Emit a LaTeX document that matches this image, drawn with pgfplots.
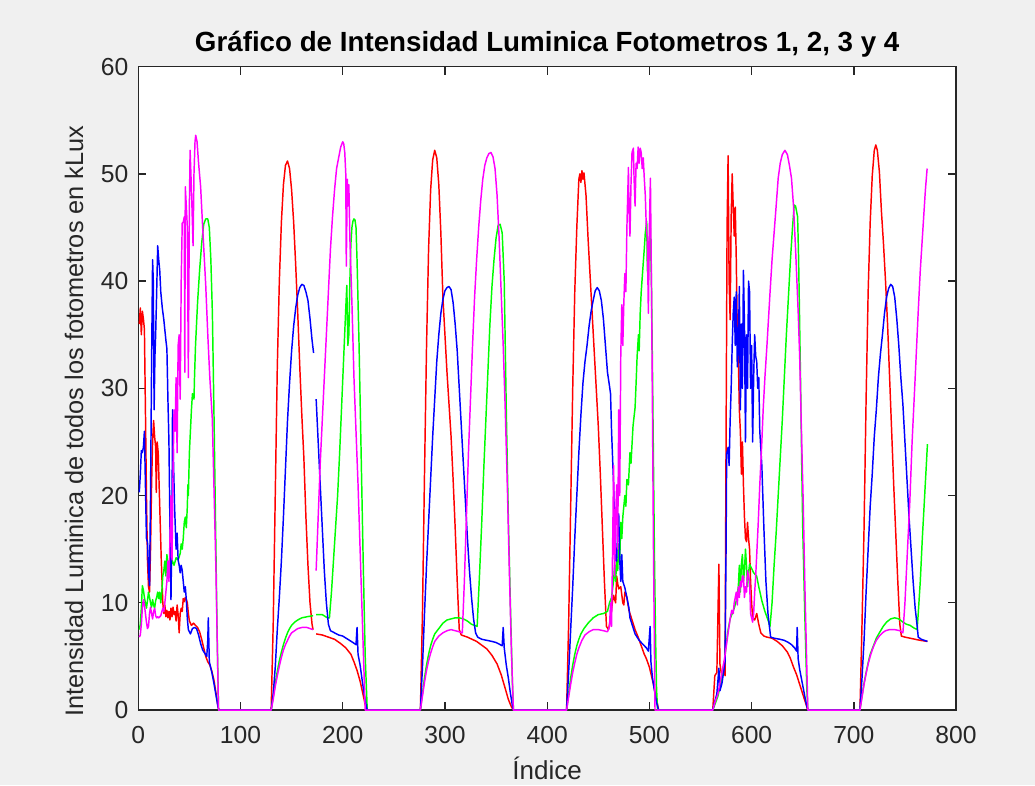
\documentclass[border=0pt]{standalone}
\usepackage{fontspec}
\setmainfont{Liberation Sans}
\usepackage{pgfplots}
\pgfplotsset{compat=1.18}
\definecolor{figbg}{HTML}{F0F0F0}
\definecolor{axcol}{HTML}{262626}
\definecolor{mred}{rgb}{1,0,0}
\definecolor{mgreen}{rgb}{0,1,0}
\definecolor{mblue}{rgb}{0,0,1}
\definecolor{mmag}{rgb}{1,0,1}
\begin{document}
\begin{tikzpicture}
\fill[figbg] (-103.7pt,-56.25pt) rectangle (672.5pt,532.5pt);
\begin{axis}[
 at={(0,0)}, anchor=south west,
 scale only axis, width=613.3pt, height=482.5pt,
 xmin=0, xmax=800, ymin=0, ymax=60,
 xtick={0,100,...,800}, ytick={0,10,...,60},
 axis background/.style={fill=white},
 axis line style={axcol, line width=1pt},
 every tick/.style={axcol, line width=1pt},
 major tick length=6pt,
 tick align=inside,
 /pgf/number format/assume math mode=true,
 tick label style={text=axcol, font=\fontsize{18.5}{22}\selectfont},
 xticklabel style={yshift=-9pt},
 yticklabel style={xshift=-4pt},
 every axis title shift=0pt,
 title={\bfseries Gráfico de Intensidad Luminica Fotometros 1, 2, 3 y 4},
 title style={at={(axis description cs:0.5,1.035)}, anchor=center, font=\fontsize{20.8}{25}\selectfont},
 xlabel={Índice},
 ylabel={Intensidad Luminica de todos los fotometros en kLux},
 xlabel style={at={(axis description cs:0.5,-0.090)}, anchor=center, text=axcol, font=\fontsize{19.5}{24}\selectfont},
 ylabel style={at={(axis description cs:-0.0786,0.449)}, anchor=center, text=axcol, font=\fontsize{19}{24}\selectfont},
 unbounded coords=jump,
 every axis plot/.append style={line width=1.1pt, line join=round},
]
% Fotometro 1 (rojo)
\addplot[mred] coordinates {
(1,36) (2,37.5) (3,35) (4,37.2) (5,36.5) (6,35.5) (7,28) (8,20) (9,14) (10,11.5) (11,11) (12,15) (13,21) (14,25) (15,27) (16,25.5) (17,24.5) (17.6,20.3) (18.5,25) (19.5,24) (21,19) (22.5,14) (24,10) (25,9) (26,9.8) (27,8.7) (28,9.3) (29,8.6) (30,9.2) (31,8.4) (32,9.5) (33,8.7) (34,9.6) (35,8.9) (36,9.2) (37,8.3) (38,9.8) (39,8.9) (40,7.2) (41,9.0) (42,9.5) (43,9.2) (44,10.4) (45,10.1) (46,10.5) (47,10.3) (48,10.0) (49,9.0) (50,8.3) (52,7.9) (54,8.1) (56,7.9) (58,7.7) (60,7.3) (62,6.6) (64,5.8) (66,5.0) (68,4.5) (70,4.2) (72,3.6) (74,2.8) (76,1.6) (78,0.3) (79,0)
(130,0) (132,8) (134,20) (136,32) (138,40) (140,45.5) (142,49) (144,50.8) (146,51.2) (148,50.5) (150,48.5) (152,45.5) (154,41.5) (156,37) (158,32) (160,27.5) (162,23.5) (164,18) (166,13.5) (168,10) (170,8) (171,7.5) (172.5,nan) (174,7.1) (180,7.0) (186,6.8) (192,6.6) (198,6.2) (203,5.8) (208,5.2) (211,4.5) (214,3.7) (217,2.7) (220,1.4) (222,0.5) (224,0)
(276,0) (278,9) (280,22) (282,34) (284,43) (286,48.5) (288,51.3) (290,52.2) (292,51.5) (294,49) (296,44.5) (298,38.5) (300,35) (302,31.5) (304,28.5) (306,25.5) (308,21.5) (310,17) (312,12) (314,7.5) (316,7.0) (322,6.8) (331,6.4) (341,5.7) (346,5.1) (351,4.3) (355,3.3) (359,2.0) (362,1.0) (365,0.3) (367,0)
(419,0) (421,8) (423,19) (425,30) (427,39) (429,45) (431,49.5) (432,50) (433,49.2) (434,50.3) (435,49.5) (436,50.1) (438,48) (440,44) (442,40.5) (444,37) (446,33.5) (448,30) (450,26.5) (452,22) (454,17) (456,12) (458,7.8) (460,7.5) (462,8.5) (464,10.2) (465,10.7) (466,10.3) (467,10.0) (468,12.5) (469,11.8) (470,11.3) (472,11.5) (474,10.0) (475,9.8) (476,11.0) (478,10.5) (480,9.3) (483,8.4) (486,7.5) (489,6.8) (492,6.0) (495,5.2) (497,4.8) (500,4.0) (502,3.2) (504,2.4) (506,1.4) (508,0.5) (509,0)
(562,0) (564,3.2) (566,3.5) (568,13.6) (569,4.3) (571,3.0) (573,4.5) (574,3.2) (575,25) (576,45) (577,51.7) (578,40) (579,36.4) (580,46) (581,50) (582,47) (583,44.2) (584,46.9) (585,42) (586,35) (587,33) (588,28) (589,26) (590,22) (591,25) (592,21) (593,18) (594,16) (595,15.7) (596,17.5) (597,16) (598,15) (599,12) (600,10) (601,8.6) (603,8.4) (605,9.0) (607,8.0) (609,7.2) (612,6.9) (615,6.8) (620,6.7) (625,6.4) (630,6.0) (635,5.4) (638,4.8) (641,4.0) (644,3.3) (647,2.4) (650,1.5) (653,0.6) (655,0)
(706,0) (708,8) (710,17) (712,29) (714,39) (716,45.5) (718,49.8) (720,52.2) (721.5,52.7) (723,52.2) (725,50.2) (727,46.5) (729,43.5) (731,40) (733,36) (735,31) (737,26) (739,21) (741,16.5) (743,12) (745,8) (746.5,6.9) (750,6.8) (755,6.7) (760,6.6) (765,6.5) (772,6.4)
};
% Fotometro 2 (verde)
\addplot[mgreen] coordinates {
(1,7.5) (2,8.0) (3,9.5) (4,11.6) (5,11.2) (6,10.5) (7,10.0) (8,9.5) (9,10.2) (10,11.0) (11,10.5) (12,10) (13,9.6) (14,10.3) (15,9.8) (16,9.5) (17,10.2) (18,10.5) (19,11.0) (20,10.4) (21,11.0) (22,10) (23,11) (24,12.5) (25,13) (26,13.9) (27,12.5) (28,14.5) (29,13.6) (30,13.5) (31,14) (32,13.2) (33,14) (35,13.5) (37,14.2) (39,14) (41,14.6) (42,15.5) (43,15) (44,16) (45,17.5) (46,18) (47,17) (48,19) (48.5,21) (49,20) (50,24) (51,26) (52,28) (53,29.5) (54.5,29) (55,31) (56,34) (58,38) (60,41) (62,43.5) (64,45.3) (66,45.8) (68,45.8) (69.5,45) (71,42) (72.5,37) (74,28) (75.5,18) (77,8) (78.5,0)
(130,0) (132,1.2) (134,2.5) (136,3.6) (138,4.6) (140,5.4) (142,6.1) (144,6.7) (146,7.2) (148,7.6) (150,7.9) (153,8.2) (156,8.4) (160,8.6) (165,8.7) (171,8.8) (172.5,nan) (174,8.9) (180,8.9) (185,8.6) (187,8.6) (189,11) (191,14) (193,17) (195,20) (197,24) (199,28.5) (201,33) (203,37.5) (204,39.6) (205,34) (206,35) (207,40) (208,43.5) (209,45) (210,45.6) (211,45.8) (212,45.7) (213,45) (214,42) (216,34) (218,24) (220,14) (222,5) (224,0)
(276,0) (278,1.5) (280,3) (282,4.2) (284,5.2) (286,6.0) (288,6.6) (290,7.1) (294,7.6) (298,8.1) (302,8.4) (306,8.5) (310,8.6) (314,8.6) (318,8.5) (322,8.3) (326,8.0) (331.5,7.8) (334,13) (336,17.5) (338,22.5) (340,27) (342,31.5) (344,36) (346,39.5) (348,42) (350,44) (352,45.2) (354,45.3) (356,44.5) (358,40) (360,28) (362,18) (364,10) (366,2.5) (367,0)
(419,0) (421,1.5) (423,3) (425,4.2) (427,5.2) (429,6.0) (431,6.6) (433,7.1) (436,7.6) (440,8.1) (445,8.6) (450,8.9) (455,9.0) (459,9.2) (461,10) (463,10.5) (465,12.1) (466,13.5) (467,12) (468,14) (469,13) (470,15.5) (471,14) (472,17.5) (473,16) (474,18) (476,20) (477,19) (478,21.5) (479.5,21) (481,24) (482,23) (484,26.5) (486,28.2) (487,30.5) (488,33) (489.3,35) (490,33.5) (491,37) (492,39) (494,41.7) (495,43) (496,44.5) (497.4,45.6) (498,41) (499,40.5) (500,44) (500.7,45.6) (502,40) (503,32) (504,23) (505,14) (506,7) (507,2) (508,0)
(562,0) (564,0.5) (567,1.3) (570,2.5) (573,4.0) (575,6) (577,7.5) (579,8.5) (581,9) (583,9.5) (585,10.2) (587,11.5) (588,13.5) (589,11) (590,13.6) (591,14.5) (592,12) (593,13) (594,15) (595,13.5) (596,11.5) (597,12.8) (598,13.6) (600,13.2) (602,12.8) (604.9,12.5) (607,11.5) (610,10.2) (613,9.2) (616,8.4) (618,7.8) (620,10) (622,13.5) (624,16.5) (626,20) (628,23.5) (630,27) (632,31) (634,35) (636,38.5) (638,42) (640,45) (641.7,47.1) (643,47) (645,46) (646,42) (647,36) (648,30) (649,23) (650,17) (651,13) (652,9) (653,5.5) (654,2) (655,0)
(706,0) (708,1.3) (710,2.5) (712,3.5) (714,4.4) (716,5.2) (718,5.7) (720,6.2) (722,6.7) (725,7.2) (728.7,7.8) (732,8.2) (736,8.5) (740,8.6) (744,8.5) (748,8.2) (751.5,8.0) (755,7.9) (758,7.7) (761.9,7.5) (763,9) (765,12) (767,16) (769,19.5) (771,23) (772,24.8)
};
% Fotometro 3 (azul)
\addplot[mblue] coordinates {
(1,20.3) (2,22) (3,24.2) (4,24) (5,24.5) (6,26) (7,21) (8,16) (9,15.7) (10,13) (11,11.6) (12,20) (13,32) (14,42) (14.7,40) (15.5,28) (16.3,33) (17,35) (18,39) (19,43.3) (20,42) (21,41) (22,39) (23.5,37.5) (25,36.4) (27,34.5) (28,33.7) (29,29) (30,25) (31,17) (32,10.3) (33,18) (33.5,28) (34.5,23) (35.5,19) (37,15) (38,16.5) (39,14) (40,13.5) (41,12.8) (42,13.5) (43,13) (44,12) (45,11) (46,11.5) (47,10.3) (48,8.5) (49,7.5) (51,7.1) (53,7.6) (55,7.7) (57,7.6) (59,7.0) (61,6.2) (63,5.6) (65,5.3) (67,5.0) (68,6.5) (68.5,8.6) (69.5,4.5) (72,3.5) (74,2.5) (76,1.4) (78,0.3) (79,0)
(130,0) (132,1.5) (134,4) (136,7.5) (138,10.5) (140,13.9) (142,18) (144,22.5) (146,27) (148,30.5) (150,33.5) (152,35.8) (154,37.5) (156,38.7) (158,39.4) (160,39.7) (162,39.6) (164,39) (166,38.2) (168,36.5) (170,34.5) (171.5,33.3) (172.5,nan) (174,29) (176,25) (178,21) (180,17) (182,13) (184,10) (186,8) (188,7.4) (192,7.2) (196,7.0) (200,6.9) (205,6.6) (210,6.3) (213,6.1) (214,7.7) (215,5.2) (217,4.2) (219,2.8) (221,1.5) (223,0.4) (224,0)
(276,0) (278,4) (280,9) (282,13.5) (284,17.5) (286,21.5) (288,25.5) (290,29) (292,32.5) (294,35) (296,37) (298,38.3) (300,39.1) (302,39.4) (304,39.5) (306,39.2) (308,38) (310,36) (312,33.5) (314,30) (316,26.5) (318,23) (320,19.5) (322,16) (324,13) (326,10.5) (328,8.5) (330,7.2) (332,6.8) (336,6.6) (341,6.5) (346,6.4) (350,6.3) (354,6.1) (356,6.0) (357,7.7) (358,5.8) (360,4.2) (362,3.0) (364,1.6) (366,0.4) (367,0)
(419,0) (421,3.5) (423,7.5) (425,11.5) (427,16) (429,20) (431,24) (433,27.5) (435,30.5) (437,32.5) (439,34) (441,35.8) (443,37.2) (445,38.2) (447,39.1) (449,39.4) (451,39.1) (453,38.2) (455,36.5) (457,34) (459,31.5) (461,30.2) (462,29.5) (463,26) (465,21) (466,17) (467,14) (468,13.9) (469,17) (470,18.3) (471,14) (472,12) (473,14.5) (474,12) (476,11.4) (478,10.5) (480,9.5) (481,8.6) (483,8.0) (486,7.1) (490,6.5) (494,6.1) (497,5.8) (499,5.5) (500.7,7.8) (501.5,4.5) (503,3.0) (505,1.8) (507,0.7) (509,0)
(562,0) (564,0.8) (566,1.5) (568,3.9) (569,1.8) (571,2.5) (573,3.8) (574,4.5) (575,15) (575.6,23.9) (577,24.5) (578,22.8) (579,27) (580,30) (581,34) (582,37) (583,38.5) (584,34) (585,39) (586,32) (587,33.5) (588,39.5) (589,28) (590,36) (591,30) (592,41) (593,36) (594,25) (595,35) (596,30) (597,40) (598,39) (599,30) (600,34) (601,25) (602,31) (603,35) (604,33) (605,32.5) (606,30) (607,31) (608,26) (610,22.8) (612,17) (614,12) (616,9) (618.6,6.8) (622,6.7) (627.7,6.6) (632,6.5) (636,6.3) (639,6.1) (642,5.8) (644,5.5) (644.6,7.7) (645.5,4.8) (647,3.8) (649,2.8) (651,1.8) (653,0.8) (655,0)
(706,0) (708,3) (710,6.5) (712,11) (714,15) (716,19) (718,22) (720,25.5) (722,28) (724,31) (726,33.2) (728,35) (730,37) (732,38.5) (734,39.3) (736,39.7) (738,39.5) (740,38.5) (742,36.5) (744,34) (746,31) (748,28.5) (750,25) (752,21.5) (754,18) (756,15) (758,12) (760,9.5) (762,7.8) (763,6.8) (766,6.6) (769,6.5) (772,6.4)
};
% Fotometro 4 (magenta)
\addplot[mmag] coordinates {
(1,6.8) (2,7.0) (3,8) (4,9.5) (5,10.3) (6,9.8) (7,9) (8,8.2) (9,7.6) (10,7.8) (11,9) (12,9.6) (13,9) (14,8.5) (15,9.2) (16,9.5) (17,8.8) (18,8.6) (19,8.7) (20,8.6) (22,8.8) (24,9.5) (25,9.2) (26,10) (27,11) (28,12) (29,13.9) (30,12) (31,16) (32,20) (33,14) (34,22) (35,28) (36,26) (37,31) (38,24) (39,34) (40,35) (41,29) (42,40) (43,45.4) (44,45.5) (45,46) (45.5,31.5) (46,48.8) (47,47) (48,45) (49,31) (50,47) (50.7,52.2) (51.5,50) (52.5,47) (53.6,43.3) (54.5,50) (55.5,53) (56.2,53.6) (57.5,53) (59,51) (61,48.8) (63,45) (66,39.6) (68,35) (70,31) (72.4,27.2) (74,21) (76,13) (77.5,5) (78.5,0)
(130,0) (132,1.0) (134,2.2) (136,3.2) (138,4.1) (140,4.9) (142,5.6) (144,6.1) (146,6.5) (148,6.9) (150,7.2) (153,7.4) (156,7.6) (160,7.7) (165,7.7) (171,7.5) (172.5,nan) (174,13) (176,18) (178,23) (180,27) (182,31) (184,35) (186,39) (188,43) (190,46) (192,48.5) (194,50.5) (196,51.5) (198,52.5) (200,53) (201,52.8) (202,52) (203,50) (203.5,41.4) (204.5,49.5) (205,47) (206,49) (207,44) (209,38) (211,31) (213,26) (215,21) (217,15) (219,9) (221,3) (222,0)
(276,0) (278,1.3) (280,2.6) (282,3.7) (284,4.6) (286,5.3) (288,5.9) (290,6.4) (294,6.9) (298,7.2) (302,7.4) (306,7.5) (310,7.4) (314,7.3) (317,7.2) (319,12) (321,18) (323,24) (325,29) (327,34) (329,38.5) (331,42) (333,45) (335,47.5) (337,49.5) (339,50.8) (341,51.5) (343,51.9) (345,52) (347,51.6) (349,50.5) (351,48) (353,44) (355,39) (357,34) (359,28) (361,21) (363,13) (365,5.5) (367,0)
(419,0) (421,1.2) (423,2.4) (425,3.5) (427,4.4) (429,5.2) (431,5.8) (434,6.5) (437,7.0) (441,7.3) (445,7.5) (450,7.5) (455,7.4) (459,7.3) (461,7.8) (462,10) (463,7.8) (464,15) (465,22.8) (466,12.5) (467,18) (468,21) (469,15) (470,28) (471,20) (472,33) (473,37.8) (474,34) (475,38) (476,40.7) (477,39) (478,45) (479.5,50.6) (480,47) (481,44.2) (482,49) (483,52) (484.4,52.4) (485,49.6) (486,47) (487,51) (488,50.5) (489,52.5) (490,51) (491,52.4) (492,52) (493,50.5) (494,51.5) (495,49.6) (496,48) (497,45) (498,44) (499,37) (500,45) (501,49.6) (502,40) (503,28) (504,15) (505,5) (505.5,0)
(562,0) (564,0.7) (567,1.5) (570,3.0) (573,4.5) (575,5.8) (577,7.2) (579,8.5) (580.5,9.3) (582,9.0) (583,10) (584,10.5) (585,11) (586,9.8) (587,11.5) (588,10.5) (589,12) (590,11.5) (591,12.5) (592,12.5) (593,10.5) (594,11.5) (595,11) (596,13) (597,12.5) (598,12) (599,9) (600,8.6) (601,8.2) (602,9) (603,11) (604,12.5) (605,14.5) (606.5,17.5) (608,21) (610,25) (611.4,28.2) (613,31) (615,34) (618,38.9) (620,42) (622,44.5) (624,47) (626,49.6) (628,51) (630,51.8) (632.6,52.2) (635,51.8) (637,50.8) (639,49.6) (641,47) (643,43) (645.6,37) (647,33) (648,29) (649,25) (650.5,19.3) (652,12) (653,8) (654,4) (655,0)
(706,0) (708,1.2) (710,2.4) (712,3.4) (714,4.3) (716,5) (718,5.6) (720,6.1) (722,6.5) (725,6.9) (728,7.2) (731,7.4) (735,7.5) (740,7.5) (745,7.4) (748,7.2) (750,10) (752,14) (754.7,19.3) (757,25) (760,31) (762.9,37) (765,41) (768,45.5) (770,48.5) (771.7,50.5)
};
\end{axis}
\pgfresetboundingbox
\path[use as bounding box] (-103.7pt,-56.25pt) rectangle (672.5pt,532.5pt);
\end{tikzpicture}
\end{document}
